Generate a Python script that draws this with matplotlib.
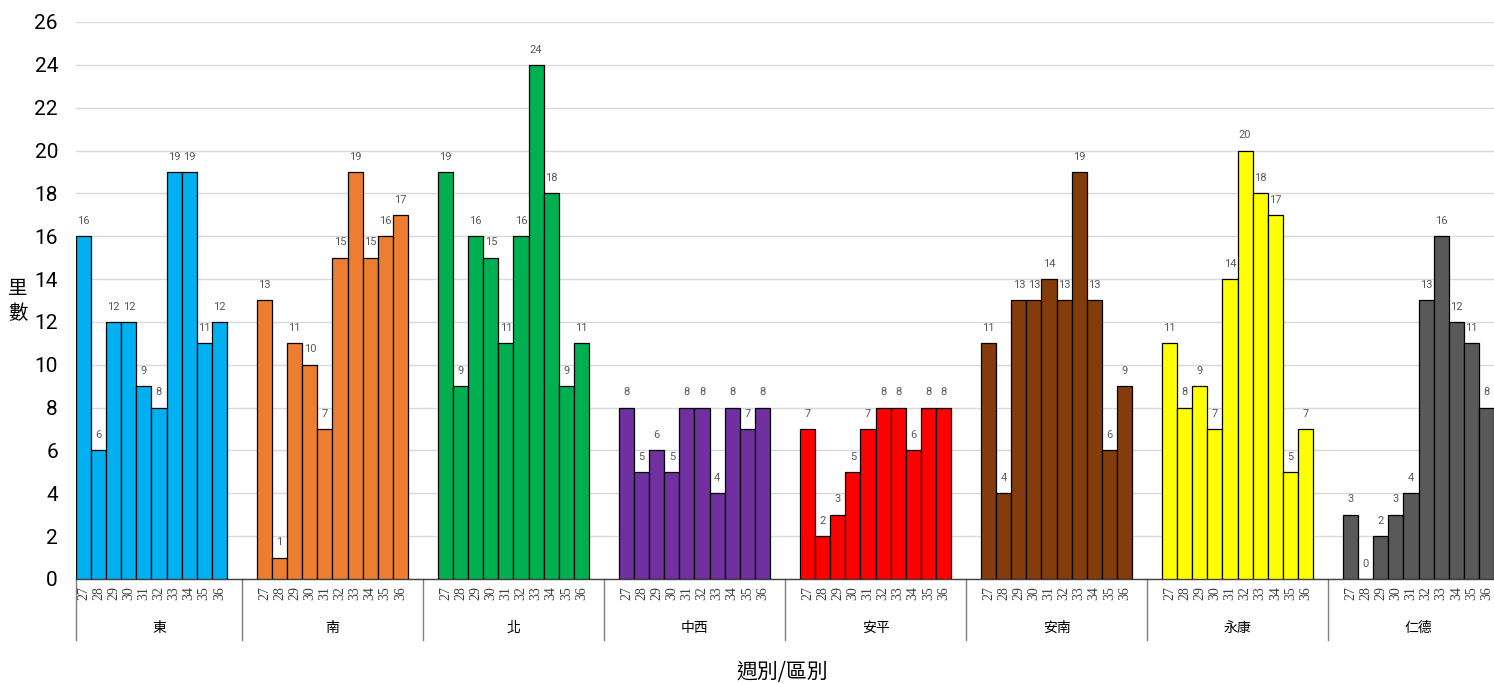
import matplotlib

matplotlib.use("Agg")
import matplotlib.pyplot as plt
from matplotlib.transforms import blended_transform_factory

plt.rcParams["font.family"] = ["Roboto", "Noto Sans CJK TC", "DejaVu Sans"]

# ---------------------------------------------------------------------------
# Dados
# ---------------------------------------------------------------------------
distritos = ["東", "南", "北", "中西", "安平", "安南", "永康", "仁德"]
semanas = ["27", "28", "29", "30", "31", "32", "33", "34", "35", "36"]

v_leste = [16, 6, 12, 12, 9, 8, 19, 19, 11, 12]
v_sul = [13, 1, 11, 10, 7, 15, 19, 15, 16, 17]
v_norte = [19, 9, 16, 15, 11, 16, 24, 18, 9, 11]
v_centro_oeste = [8, 5, 6, 5, 8, 8, 4, 8, 7, 8]
v_anping = [7, 2, 3, 5, 7, 8, 8, 6, 8, 8]
v_annan = [11, 4, 13, 13, 14, 13, 19, 13, 6, 9]
v_yongkang = [11, 8, 9, 7, 14, 20, 18, 17, 5, 7]
v_rende = [3, 0, 2, 3, 4, 13, 16, 12, 11, 8]

valores = [v_leste, v_sul, v_norte, v_centro_oeste,
           v_anping, v_annan, v_yongkang, v_rende]

CORES = ["#00B0F0", "#ED7D31", "#00B050", "#7030A0",
         "#FF0000", "#843C0C", "#FFFF00", "#595959"]
COR_GRADE = "#D9D9D9"
COR_ROTULO = "#595959"
COR_EIXO = "#7F7F7F"
CJK = ["Noto Sans CJK TC", "DejaVu Sans"]

# ---------------------------------------------------------------------------
# Gráfico
# ---------------------------------------------------------------------------
fig = plt.figure(figsize=(14.94, 6.84), dpi=100)
ax = fig.add_axes([76 / 1494, 1 - 579 / 684, 1 - 76 / 1494, (579 - 22) / 684])

PASSO = 12  # 10 semanas + 2 espaços por distrito
centros, rotulos = [], []
for g, (vals, cor) in enumerate(zip(valores, CORES)):
    xs = [g * PASSO + i for i in range(len(vals))]
    barras = ax.bar(xs, vals, width=1.0, align="edge", color=cor,
                    edgecolor="black", linewidth=0.9, zorder=3)
    for b, v in zip(barras, vals):
        ax.annotate(str(v), xy=(b.get_x() + 0.5, v), xytext=(0, 11),
                    textcoords="offset points", ha="center", va="center",
                    fontsize=8, color=COR_ROTULO)
    centros += [x + 0.5 for x in xs]
    rotulos += semanas

ax.set_xlim(0, 94)
ax.set_ylim(0, 26)
ax.set_yticks(range(0, 27, 2))
ax.tick_params(axis="y", length=0, pad=13, labelsize=15, labelcolor="black")
ax.set_xticks(centros)
ax.set_xticklabels(rotulos, rotation=90, fontsize=10,
                   family=["Liberation Serif", "DejaVu Serif"], color="#404040")
ax.tick_params(axis="x", length=0, pad=5)
ax.grid(axis="y", color=COR_GRADE, linewidth=1.0, zorder=0)
for lado in ("top", "right", "left"):
    ax.spines[lado].set_visible(False)
ax.spines["bottom"].set_color("#404040")
ax.spines["bottom"].set_linewidth(1.0)

# separadores e nomes dos distritos
trans = blended_transform_factory(ax.transData, ax.transAxes)
separadores = [0] + [g * PASSO - 1 for g in range(1, len(distritos))]
for s in separadores:
    ax.plot([s, s], [0, -0.11], transform=trans, color=COR_EIXO,
            linewidth=1.0, clip_on=False)
for g, nome in enumerate(distritos):
    cx = 5.5 if g == 0 else g * PASSO + 5
    ax.text(cx, -0.088, nome, transform=trans, ha="center", va="center",
            fontsize=10, family=CJK)

fig.text(18 / 1494, 1 - 301 / 684, "里\n數", ha="center", va="center",
         fontsize=14, linespacing=1.25, family=CJK)
fig.text(782 / 1494, 1 - 672 / 684, "週別/區別", ha="center", va="center",
         fontsize=15, family=CJK)

fig.savefig("out.png", dpi=100, facecolor="white")
plt.close(fig)
